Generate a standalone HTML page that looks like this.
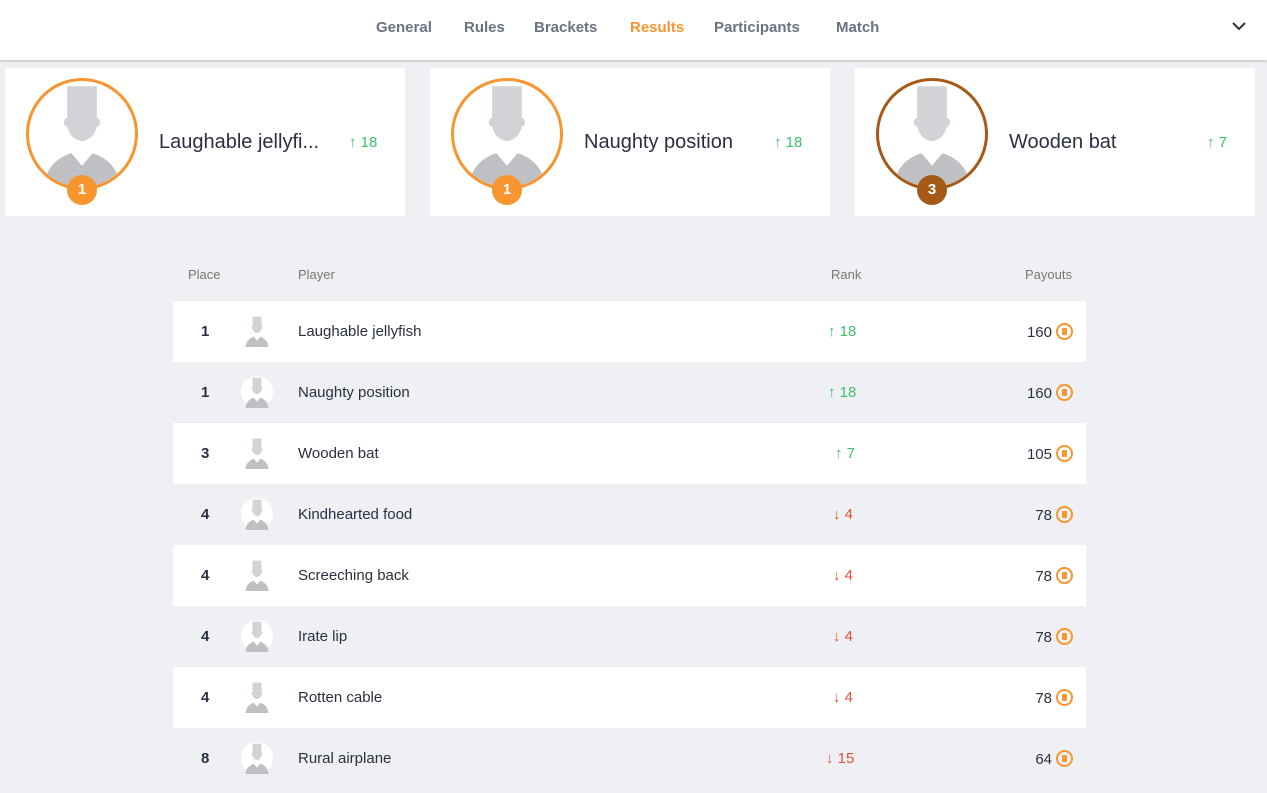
<!DOCTYPE html>
<html><head><style>
body{margin:0;width:1267px;height:793px;background:#eef0f4;font-family:"Liberation Sans",sans-serif;position:relative;overflow:hidden;color:#2b3040}
.hdr{position:absolute;left:0;top:0;width:1267px;height:60px;background:#fff;box-shadow:0 1px 3px rgba(0,0,0,.25)}
.hdr span{position:absolute;top:19px;font-size:15px;font-weight:bold;color:#6b7280}
.card{position:absolute;top:68px;width:400px;height:148px;background:#fff}
.av{position:absolute;left:21px;top:10px;width:106px;height:106px;border:3px solid #f7952f;border-radius:50%;overflow:hidden;background:#fff}
.badge{position:absolute;left:62px;top:107px;width:30px;height:30px;border-radius:50%;background:#f7952f;color:#fff;font-weight:bold;font-size:15px;text-align:center;line-height:30px}
.nm{position:absolute;left:154px;top:63px;font-size:20px;color:#2b3040}
.up{color:#3cc06a}.dn{color:#e0533a}
.cr{position:absolute;top:66px;font-size:15px}
.th{position:absolute;top:267px;font-size:13px;color:#777}
.row{position:absolute;left:173px;width:913px;height:61px;font-size:15px}
.row span{position:absolute;top:22px}
.coin{display:inline-block;width:13px;height:13px;border:2px solid #f7952f;border-radius:50%;vertical-align:-3px;margin-left:4px;position:relative}
.coin:after{content:"";position:absolute;left:4px;top:3px;width:5px;height:7px;background:#f7952f;border-radius:1px}
</style></head><body>
<div class="hdr">
<span style="left:376px">General</span><span style="left:464px">Rules</span><span style="left:534px">Brackets</span><span style="left:630px;color:#f7952f">Results</span><span style="left:714px">Participants</span><span style="left:836px">Match</span>
<svg style="position:absolute;left:1231px;top:20px" width="16" height="12"><polyline points="2,3 8,9 14,3" fill="none" stroke="#333" stroke-width="2"/></svg>
</div>
<svg width="0" height="0" style="position:absolute"><defs><symbol id="p" viewBox="0 0 100 100"><path d="M36 5h28v30c4 0 4 8 0 8c-2 8-6 12-14 14c-8-2-12-6-14-14c-4 0-4-8 0-8z" fill="#d2d3d6"/><path d="M14 100c2-20 14-28 26-32l10 12l10-12c12 4 24 12 26 32z" fill="#bfc0c3"/></symbol></defs></svg>
<div class="card" style="left:5px"><div class="av"><svg width="106" height="106"><use href="#p"/></svg></div><div class="badge">1</div><div class="nm">Laughable jellyfi...</div><div class="cr up" style="left:344px">↑ 18</div></div>
<div class="card" style="left:430px"><div class="av"><svg width="106" height="106"><use href="#p"/></svg></div><div class="badge">1</div><div class="nm">Naughty position</div><div class="cr up" style="left:344px">↑ 18</div></div>
<div class="card" style="left:855px"><div class="av" style="border-color:#a65a17"><svg width="106" height="106"><use href="#p"/></svg></div><div class="badge" style="background:#a65a17">3</div><div class="nm">Wooden bat</div><div class="cr up" style="left:352px">↑ 7</div></div>
<div class="th" style="left:188px">Place</div><div class="th" style="left:298px">Player</div><div class="th" style="left:831px">Rank</div><div class="th" style="left:1025px">Payouts</div>
<div class="row" style="top:301px;background:#fff"><span style="left:28px;font-weight:bold">1</span><svg style="position:absolute;left:68px;top:14px" width="32" height="32"><use href="#p"/></svg><span style="left:125px">Laughable jellyfish</span><span class="up" style="left:655px">↑ 18</span><span style="right:13px">160<i class="coin"></i></span></div>
<div class="row" style="top:362px"><span style="left:28px;font-weight:bold">1</span><svg style="position:absolute;left:68px;top:14px" width="32" height="32"><circle cx="16" cy="16" r="16" fill="#fff"/><use href="#p"/></svg><span style="left:125px">Naughty position</span><span class="up" style="left:655px">↑ 18</span><span style="right:13px">160<i class="coin"></i></span></div>
<div class="row" style="top:423px;background:#fff"><span style="left:28px;font-weight:bold">3</span><svg style="position:absolute;left:68px;top:14px" width="32" height="32"><use href="#p"/></svg><span style="left:125px">Wooden bat</span><span class="up" style="left:662px">↑ 7</span><span style="right:13px">105<i class="coin"></i></span></div>
<div class="row" style="top:484px"><span style="left:28px;font-weight:bold">4</span><svg style="position:absolute;left:68px;top:14px" width="32" height="32"><circle cx="16" cy="16" r="16" fill="#fff"/><use href="#p"/></svg><span style="left:125px">Kindhearted food</span><span class="dn" style="left:660px">↓ 4</span><span style="right:13px">78<i class="coin"></i></span></div>
<div class="row" style="top:545px;background:#fff"><span style="left:28px;font-weight:bold">4</span><svg style="position:absolute;left:68px;top:14px" width="32" height="32"><use href="#p"/></svg><span style="left:125px">Screeching back</span><span class="dn" style="left:660px">↓ 4</span><span style="right:13px">78<i class="coin"></i></span></div>
<div class="row" style="top:606px"><span style="left:28px;font-weight:bold">4</span><svg style="position:absolute;left:68px;top:14px" width="32" height="32"><circle cx="16" cy="16" r="16" fill="#fff"/><use href="#p"/></svg><span style="left:125px">Irate lip</span><span class="dn" style="left:660px">↓ 4</span><span style="right:13px">78<i class="coin"></i></span></div>
<div class="row" style="top:667px;background:#fff"><span style="left:28px;font-weight:bold">4</span><svg style="position:absolute;left:68px;top:14px" width="32" height="32"><use href="#p"/></svg><span style="left:125px">Rotten cable</span><span class="dn" style="left:660px">↓ 4</span><span style="right:13px">78<i class="coin"></i></span></div>
<div class="row" style="top:728px"><span style="left:28px;font-weight:bold">8</span><svg style="position:absolute;left:68px;top:14px" width="32" height="32"><circle cx="16" cy="16" r="16" fill="#fff"/><use href="#p"/></svg><span style="left:125px">Rural airplane</span><span class="dn" style="left:653px">↓ 15</span><span style="right:13px">64<i class="coin"></i></span></div>
</body></html>
